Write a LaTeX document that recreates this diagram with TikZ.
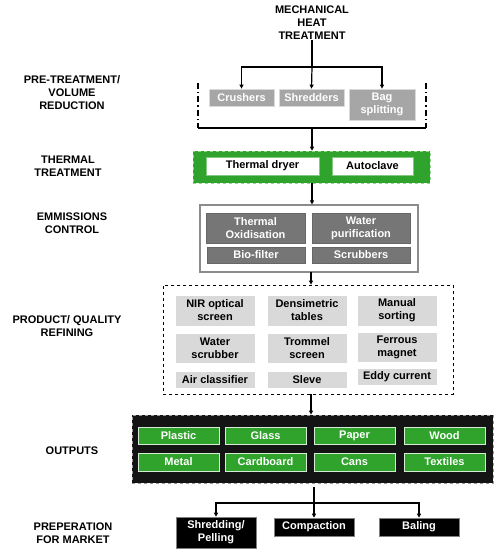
\documentclass[tikz,border=0pt]{standalone}
\usepackage{fontspec}
\setmainfont{Liberation Sans}
\usetikzlibrary{arrows.meta}
\definecolor{mygreen}{HTML}{2FA32B}
\definecolor{lgreen}{HTML}{8FD88A}
\definecolor{dgray}{HTML}{767676}
\definecolor{mgray}{HTML}{A6A6A6}
\definecolor{lgray}{HTML}{D9D9D9}
\tikzset{
  every node/.style={font=\fontsize{11}{13}\selectfont\bfseries, align=center, inner sep=0pt},
  lbl/.style={text=black},
  prebox/.style={fill=mgray, draw=lgray, line width=0.8pt, text=white, minimum width=65pt},
  thbox/.style={fill=white, draw=mygreen!60!white, line width=0.8pt, text=black},
  embox/.style={fill=dgray, draw=black!60, line width=0.6pt, text=white, minimum width=98pt},
  rfbox/.style={fill=lgray, draw=white, line width=0.6pt, text=black, minimum width=80pt},
  oubox/.style={fill=mygreen, draw=white!80!mygreen, line width=0.8pt, text=white, minimum width=81pt},
  mkbox/.style={fill=black, draw=black!50, line width=0.6pt, text=white, minimum width=80pt},
  conn/.style={line width=1.2pt, draw=black},
  arr/.style={conn, -{Triangle[length=4pt,width=4pt]}},
}
\begin{document}
\begin{tikzpicture}[x=1pt,y=-1pt]
\useasboundingbox (0,0) rectangle (495,553);
% left labels
\node[lbl] at (72,93) {PRE-TREATMENT/\\VOLUME\\REDUCTION};
\node[lbl] at (68,166) {THERMAL\\TREATMENT};
\node[lbl] at (72,223.5) {EMMISSIONS\\CONTROL};
\node[lbl] at (67,326.5) {PRODUCT/ QUALITY\\REFINING};
\node[lbl] at (72,451) {OUTPUTS};
\node[lbl] at (73,533) {PREPERATION\\FOR MARKET};
% top
\node[lbl] (mht) at (312,23) {MECHANICAL\\HEAT\\TREATMENT};
\node[prebox, minimum height=17pt] (cru) at (241.5,97.5) {Crushers};
\node[prebox, minimum height=17pt] (shr) at (311.5,97.5) {Shredders};
\node[prebox, minimum width=66pt, minimum height=31pt] (bag) at (382,104.5) {Bag\\splitting};
\coordinate (j1) at (312,67);
\draw[conn] (mht.south) -- (j1);
\draw[arr] (j1) -| (cru.north);
\draw[arr] (j1) -- (shr.north);
\draw[arr] (j1) -| (bag.north);
% bracket
\coordinate (bl) at (198,83);
\coordinate (bbl) at (198,128);
\coordinate (bbr) at (426,128);
\coordinate (br) at (426,83);
\coordinate (bm) at (312,128);
\draw[line width=1.2pt, dash pattern=on 6pt off 3pt on 1.5pt off 3pt] (bl) -- (bbl);
\draw[line width=1.2pt, dash pattern=on 6pt off 3pt on 1.5pt off 3pt] (br) -- (bbr);
\draw[conn] (bbl) -- (bbr);
% thermal
\node[fill=mygreen, draw=lgreen, dashed, line width=0.6pt, minimum width=237pt, minimum height=32pt] (th) at (311.5,167) {};
\node[thbox, minimum width=113pt, minimum height=18pt] (dry) at (262.5,166) {Thermal dryer};
\node[thbox, minimum width=81pt, minimum height=18pt] (aut) at (372.5,166) {Autoclave};
\draw[arr] (bm) -- (bm |- th.north);
% emissions
\node[fill=white, draw=black!45, line width=1.2pt, minimum width=218pt, minimum height=67pt] (em) at (309,238.5) {};
\node[embox, minimum width=99pt, minimum height=30pt] (tox) at (255.5,228) {Thermal\\Oxidisation};
\node[embox, minimum height=30pt] (wpu) at (361,228) {Water\\purification};
\node[embox, minimum height=16pt] (bio) at (256,255) {Bio-filter};
\node[embox, minimum height=16pt] (scr) at (361,255) {Scrubbers};
\draw[arr] (th.south -| em.north) ++(3,0) coordinate (t1) -- (t1 |- em.north);
% refining
\node[draw=black, dashed, line width=0.8pt, fill=white, minimum width=290pt, minimum height=109pt] (rf) at (308,339.5) {};
\node[rfbox, minimum height=31pt] (nir) at (215,310.5) {NIR optical\\screen};
\node[rfbox, minimum height=31pt] (den) at (307,310.5) {Densimetric\\tables};
\node[rfbox, minimum height=31pt] (man) at (397,310.5) {Manual\\sorting};
\node[rfbox, minimum height=30pt] (wsc) at (215,348) {Water\\scrubber};
\node[rfbox, minimum height=30pt] (tro) at (307,348) {Trommel\\screen};
\node[rfbox, minimum height=30pt] (fer) at (397,347) {Ferrous\\magnet};
\node[rfbox, minimum height=17pt] (air) at (215,379.5) {Air classifier};
\node[rfbox, minimum height=17pt] (sle) at (307,379.5) {Sleve};
\node[rfbox, minimum height=17pt] (edd) at (397,376.5) {Eddy current};
\coordinate (t2) at (311,272);
\draw[arr] (t2) -- (t2 |- rf.north);
% outputs
\node[fill=black!92, draw=black!40, dashed, line width=0.8pt, minimum width=361pt, minimum height=68pt] (ou) at (312.5,449) {};
\node[oubox, minimum height=17pt] (pla) at (178.5,435.5) {Plastic};
\node[oubox, minimum height=17pt] (gla) at (265.5,435.5) {Glass};
\node[oubox, minimum height=17pt] (pap) at (354.5,435.5) {Paper};
\node[oubox, minimum height=17pt] (woo) at (444.5,435.5) {Wood};
\node[oubox, minimum height=18pt] (met) at (178.5,462) {Metal};
\node[oubox, minimum height=18pt] (car) at (265.5,462) {Cardboard};
\node[oubox, minimum height=18pt] (can) at (354.5,462) {Cans};
\node[oubox, minimum height=18pt] (tex) at (444.5,462) {Textiles};
\coordinate (t3) at (311,394);
\draw[arr] (t3) -- (t3 |- ou.north);
% market
\node[mkbox, minimum height=31pt] (shp) at (216,532.5) {Shredding/\\Pelling};
\node[mkbox, minimum height=18pt] (com) at (314,527) {Compaction};
\node[mkbox, minimum height=18pt] (bal) at (419,527) {Baling};
\coordinate (t4) at (314,487);
\coordinate (j2) at (314,503);
\draw[conn] (t4) -- (j2);
\draw[arr] (j2) -| (shp.north);
\draw[arr] (j2) -- (com.north);
\draw[arr] (j2) -| (bal.north);
\end{tikzpicture}
\end{document}
